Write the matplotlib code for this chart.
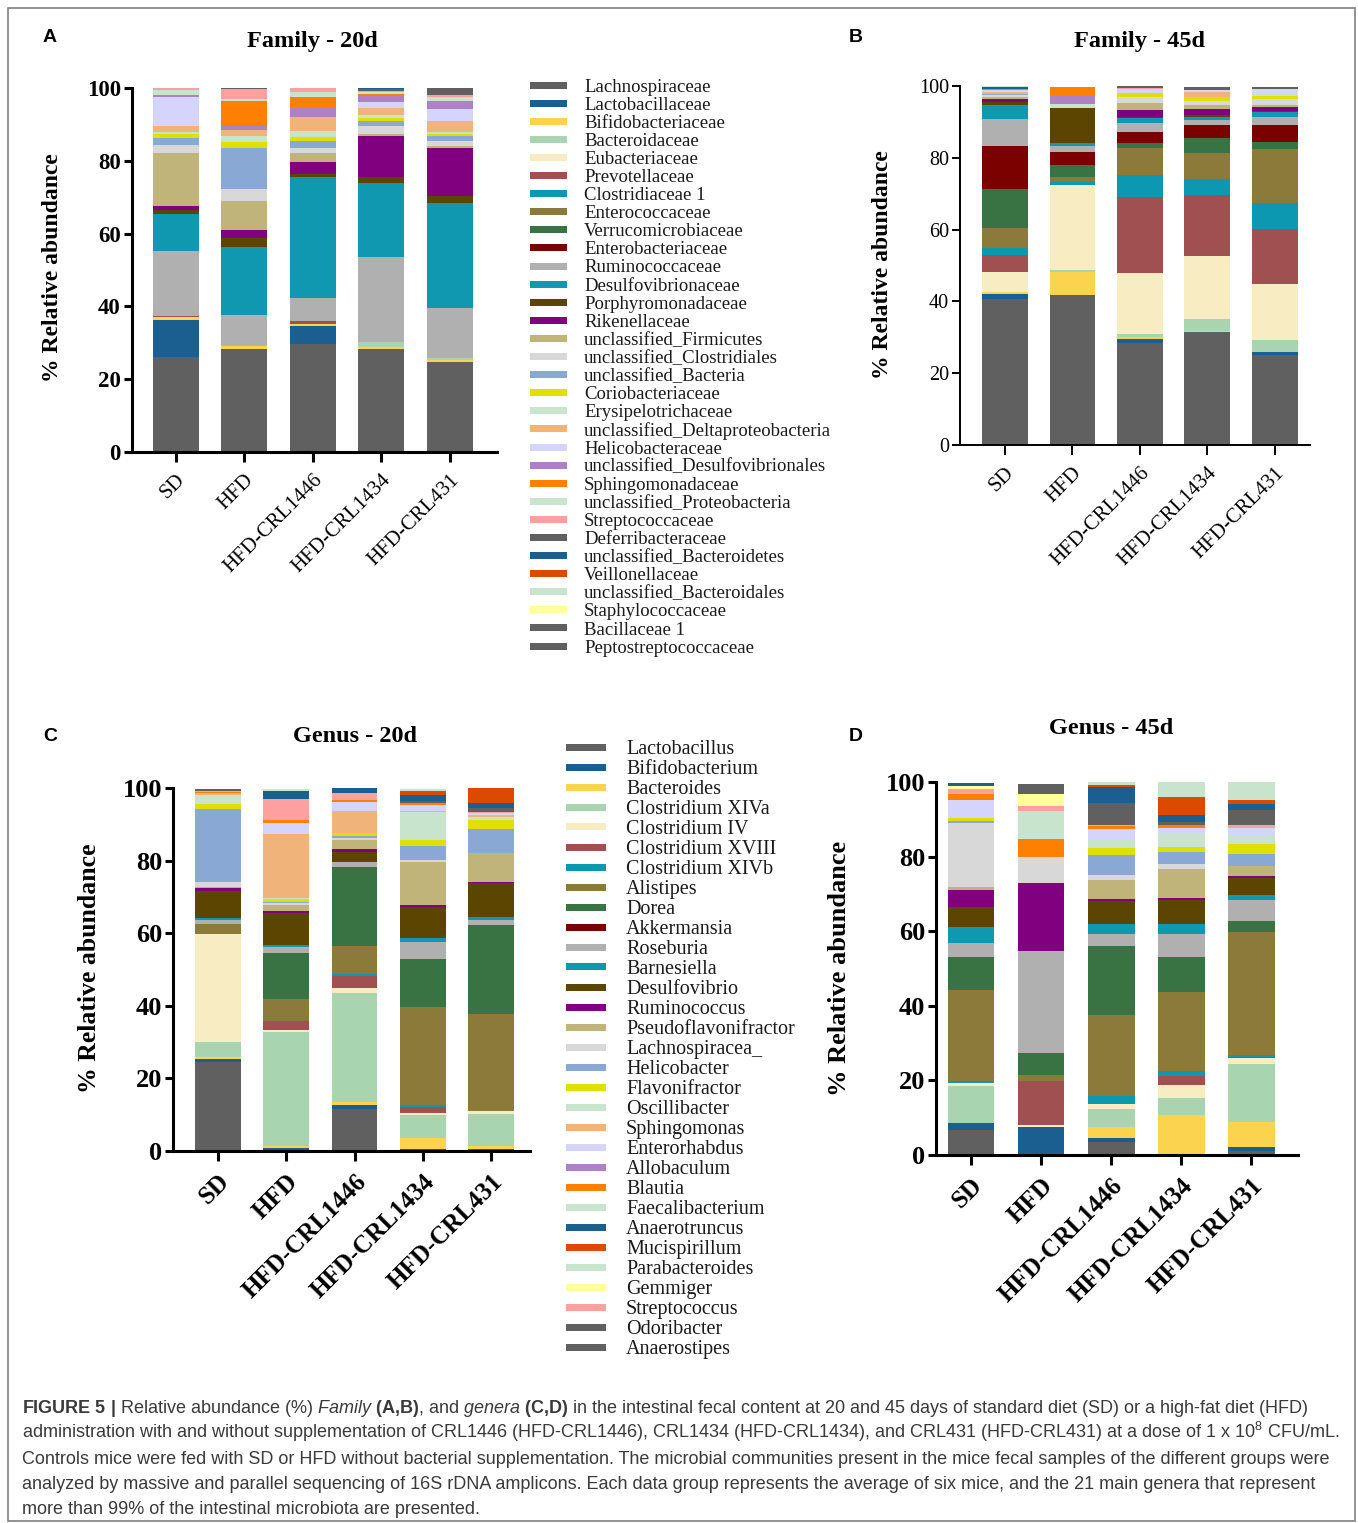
import matplotlib
matplotlib.use("Agg")
import matplotlib.pyplot as plt
from matplotlib.patches import Rectangle
import numpy as np

plt.rcParams["font.family"] = ["Liberation Serif", "DejaVu Serif"]
plt.rcParams["mathtext.fontset"] = "custom"
plt.rcParams["mathtext.rm"] = "Liberation Sans"
plt.rcParams["mathtext.it"] = "Liberation Sans:italic"
plt.rcParams["mathtext.bf"] = "Liberation Sans:bold"

W, H = 1358, 1523

GROUPS = ["SD", "HFD", "HFD-CRL1446", "HFD-CRL1434", "HFD-CRL431"]

# ---- families (legend order == stacking order) ----------------------------
FAMILIES = [
    "Lachnospiraceae", "Lactobacillaceae", "Bifidobacteriaceae", "Bacteroidaceae",
    "Eubacteriaceae", "Prevotellaceae", "Clostridiaceae 1", "Enterococcaceae",
    "Verrucomicrobiaceae", "Enterobacteriaceae", "Ruminococcaceae",
    "Desulfovibrionaceae", "Porphyromonadaceae", "Rikenellaceae",
    "unclassified_Firmicutes", "unclassified_Clostridiales", "unclassified_Bacteria",
    "Coriobacteriaceae", "Erysipelotrichaceae", "unclassified_Deltaproteobacteria",
    "Helicobacteraceae", "unclassified_Desulfovibrionales", "Sphingomonadaceae",
    "unclassified_Proteobacteria", "Streptococcaceae", "Deferribacteraceae",
    "unclassified_Bacteroidetes", "Veillonellaceae", "unclassified_Bacteroidales",
    "Staphylococcaceae", "Bacillaceae 1", "Peptostreptococcaceae",
]
FAMILY_COLORS = [
    "#606060", "#1b5f91", "#fcd34f", "#a8d5b0", "#f8ecc2", "#a05050", "#0d98b2",
    "#8b7a39", "#3a7343", "#7b0000", "#b0b0b0", "#0f98b0", "#5c4500", "#800080",
    "#c0b47b", "#d8d8d8", "#8aa8d4", "#e0e000", "#c8e4cc", "#f0b47a", "#d4d4fc",
    "#b080c4", "#ff8000", "#c8e4cc", "#ffa0a0", "#606060", "#1b5f91", "#dc4a00",
    "#c8e4cc", "#ffff9c", "#606060", "#606060",
]

# Family - 20d, one list per group, values in FAMILIES order (%)
FAM20_SD = [26.2, 10.2, 0.6, 0, 0, 0.5, 0, 0, 0, 0, 17.6, 10.3, 1.1, 1.1, 14.5, 2.3,
            2.0, 0.9, 0.6, 1.7, 7.8, 0.8, 0, 1.2, 0.6, 0, 0, 0, 0, 0, 0, 0]
FAM20_HFD = [28.4, 0, 0.6, 0, 0, 0, 0, 0, 0, 0, 8.6, 18.6, 2.5, 2.3, 7.9, 3.4,
             11.2, 1.7, 1.5, 1.7, 0, 1.4, 6.7, 0.6, 2.5, 0.4, 0, 0, 0, 0, 0, 0]
FAM20_1446 = [29.7, 5.0, 0.6, 0, 0, 0.6, 0, 0, 0, 0, 6.3, 33.3, 0.9, 3.2, 2.5, 1.5,
              1.8, 1.2, 1.5, 4.0, 0, 2.7, 2.6, 1.5, 1.1, 0, 0, 0, 0, 0, 0, 0]
FAM20_1434 = [28.4, 0, 0.4, 1.3, 0, 0, 0, 0, 0, 0, 23.5, 20.4, 1.5, 11.3, 0.7, 2.1,
              1.2, 0.9, 0.9, 1.9, 1.7, 1.8, 0.3, 0.6, 0.3, 0.5, 0.3, 0, 0, 0, 0, 0]
FAM20_431 = [24.6, 0, 0.6, 0.6, 0, 0, 0, 0, 0, 0, 13.8, 28.9, 1.7, 13.3, 0.5, 1.5,
             1.3, 0.7, 0.4, 2.9, 3.3, 2.3, 0, 1.2, 0.4, 2.0, 0, 0, 0, 0, 0, 0]

# Family - 45d
FAM45_SD = [40.7, 1.5, 0.4, 0, 5.5, 4.8, 2.1, 5.4, 10.8, 12.1, 7.6, 3.7, 1.0, 0.7, 0.7,
            0.5, 0.4, 0, 0, 0.5, 0.4, 0, 0.3, 0, 0, 0, 0.5, 0, 0.3, 0, 0, 0]
FAM45_HFD = [41.8, 0, 6.5, 0.4, 23.7, 0, 0.8, 1.4, 3.4, 3.5, 1.9, 0.6, 9.8, 0, 0, 0,
             0, 0, 1.1, 0, 0, 2.4, 2.3, 0, 0, 0, 0, 0, 0.2, 0, 0, 0]
FAM45_1446 = [28.3, 1.3, 0.4, 0.8, 17.0, 21.2, 6.3, 7.5, 1.2, 3.3, 2.3, 1.6, 0.3, 1.8,
              2.1, 1.5, 0, 1.1, 0, 0, 1.2, 0, 0, 0, 0.3, 0.4, 0, 0, 0, 0, 0, 0]
FAM45_1434 = [31.4, 0, 0.4, 3.3, 17.5, 17.0, 4.5, 7.1, 4.2, 3.6, 1.5, 0.8, 0.6, 1.7,
              1.1, 1.2, 0, 0.9, 0, 1.6, 0.6, 0, 0, 0, 0, 0.6, 0, 0, 0, 0, 0, 0]
FAM45_431 = [25.1, 0.9, 0, 3.2, 15.6, 15.5, 7.2, 15.0, 2.0, 4.5, 2.3, 1.4, 0.3, 1.1,
             0.7, 1.6, 0, 0.7, 0.6, 0, 1.4, 0, 0, 0, 0, 0.6, 0, 0, 0, 0, 0, 0]

# ---- genera ----------------------------------------------------------------
GENERA = [
    "Lactobacillus", "Bifidobacterium", "Bacteroides", "Clostridium XIVa",
    "Clostridium IV", "Clostridium XVIII", "Clostridium XIVb", "Alistipes", "Dorea",
    "Akkermansia", "Roseburia", "Barnesiella", "Desulfovibrio", "Ruminococcus",
    "Pseudoflavonifractor", "Lachnospiracea_", "Helicobacter", "Flavonifractor",
    "Oscillibacter", "Sphingomonas", "Enterorhabdus", "Allobaculum", "Blautia",
    "Faecalibacterium", "Anaerotruncus", "Mucispirillum", "Parabacteroides",
    "Gemmiger", "Streptococcus", "Odoribacter", "Anaerostipes",
]
GENUS_COLORS = [
    "#606060", "#1b5f91", "#fcd34f", "#a8d5b0", "#f8ecc2", "#a05050", "#0d98b2",
    "#8b7a39", "#3a7343", "#7b0000", "#b0b0b0", "#0f98b0", "#5c4500", "#800080",
    "#c0b47b", "#d8d8d8", "#8aa8d4", "#e0e000", "#c8e4cc", "#f0b47a", "#d4d4fc",
    "#b080c4", "#ff8000", "#c8e4cc", "#1b5f91", "#dc4a00", "#c8e4cc", "#ffff9c",
    "#ffa0a0", "#606060", "#606060",
]
# the genus bars are not stacked in legend order at the top
GENUS_STACK = list(range(23)) + [23, 28, 27, 29, 30, 24, 25, 26]

# Genus - 20d, values in GENERA order (%)
GEN20_SD = [24.5, 0.9, 0.4, 4.3, 29.6, 0, 0, 2.7, 0, 0, 1.2, 0.7, 7.4, 0.7, 0.4, 1.4,
            20.0, 1.4, 2.5, 0.6, 0, 0, 0.3, 0, 0, 0, 0, 0, 0.3, 0.4, 0]
GEN20_HFD = [0, 0.9, 0.5, 31.4, 0.6, 2.5, 0, 5.9, 12.7, 0, 1.6, 0.7, 8.8, 0.4, 1.7,
             0.6, 0.3, 0.9, 0.3, 17.6, 2.9, 0, 0.8, 0, 2.3, 0, 0.6, 0, 5.8, 0, 0]
GEN20_1446 = [11.6, 1.2, 0.6, 30.1, 1.4, 3.4, 0.5, 7.8, 21.6, 0, 1.4, 0, 2.9, 0.6, 2.5,
              0.7, 0.6, 0.7, 0, 6.2, 2.3, 0, 0.5, 0, 1.3, 0, 0, 0, 2.0, 0, 0]
GEN20_1434 = [0.3, 0.3, 3.0, 6.4, 0.6, 1.4, 0.6, 27.0, 13.3, 0, 4.6, 1.2, 8.6, 0.6,
              11.8, 0.5, 3.7, 1.8, 7.6, 0.5, 1.4, 0, 0.6, 0, 1.8, 1.1, 0.6, 0, 0, 0.5, 0]
GEN20_431 = [0.3, 0.3, 0.8, 8.8, 0.9, 0, 0, 26.6, 24.6, 0, 1.3, 0.9, 9.2, 0.5, 7.9, 0,
             6.7, 2.5, 0.7, 0.5, 0.5, 0, 0, 0, 1.6, 4.1, 0, 0, 0.5, 0.9, 0]

# Genus - 45d
GEN45_SD = [6.6, 2.1, 0, 9.7, 0.9, 0, 0.6, 24.3, 9.0, 0, 3.6, 4.2, 5.4, 4.7, 0.7, 17.1,
            0.7, 0.8, 0, 0, 4.9, 0, 1.4, 0, 0.8, 0, 0, 0.9, 1.4, 0, 0]
GEN45_HFD = [0, 7.6, 0, 0, 0.4, 11.9, 0, 1.6, 5.9, 0, 27.2, 0, 0, 18.4, 0, 6.9, 0, 0,
             0, 0, 0, 0, 4.9, 7.4, 0, 0, 0, 3.3, 1.3, 2.7, 0]
GEN45_1446 = [3.4, 1.1, 2.9, 4.9, 1.4, 0, 2.0, 21.7, 18.7, 0, 3.1, 2.7, 6.1, 0.7, 5.1,
              1.2, 5.3, 2.0, 2.1, 0, 2.9, 0, 0.9, 0, 4.3, 0.6, 0.8, 0, 0.4, 5.7, 0]
GEN45_1434 = [0, 0.4, 10.2, 4.7, 3.6, 2.4, 1.1, 21.4, 9.3, 0, 6.1, 2.6, 6.6, 0.5, 7.9,
              1.3, 3.0, 1.5, 3.8, 0, 1.3, 0, 0.7, 0, 1.8, 4.8, 4.1, 0, 0, 0.9, 0]
GEN45_431 = [1.2, 1.0, 6.6, 15.6, 1.5, 0.4, 0.6, 33.0, 2.9, 0, 5.6, 1.4, 4.5, 0.5, 2.8,
             0, 3.0, 2.7, 2.4, 0, 2.1, 0, 0, 0, 1.4, 1.2, 4.8, 0, 0.8, 4.0, 0]

CAPTION = [
    r"$\mathbf{FIGURE\ 5\ |}$ Relative abundance (%) $\mathit{Family}$ $\mathbf{(A{,}B)}$, "
    r"and $\mathit{genera}$ $\mathbf{(C{,}D)}$ in the intestinal fecal content at 20 and 45 "
    r"days of standard diet (SD) or a high-fat diet (HFD)",
    r"administration with and without supplementation of CRL1446 (HFD-CRL1446), CRL1434 "
    r"(HFD-CRL1434), and CRL431 (HFD-CRL431) at a dose of 1 x 10$^{8}$ CFU/mL.",
    "Controls mice were fed with SD or HFD without bacterial supplementation. The microbial "
    "communities present in the mice fecal samples of the different groups were",
    "analyzed by massive and parallel sequencing of 16S rDNA amplicons. Each data group "
    "represents the average of six mice, and the 21 main genera that represent",
    "more than 99% of the intestinal microbiota are presented.",
]


def box(left, right, top, bottom):
    """pixel box -> figure fraction rect"""
    return [left / W, 1 - bottom / H, (right - left) / W, (bottom - top) / H]


def ftext(x, y, s, **kw):
    fig.text(x / W, 1 - y / H, s, **kw)


def stacked_panel(ax, rows, colors, order, xlim, width, st):
    data = np.array(rows, dtype=float)
    x = np.arange(len(GROUPS))
    bottom = np.zeros(len(GROUPS))
    for j in order:
        ax.bar(x, data[:, j], width, bottom=bottom, color=colors[j], linewidth=0)
        bottom += data[:, j]
    ax.set_xlim(*xlim)
    ax.set_ylim(0, 100)
    ax.set_yticks([0, 20, 40, 60, 80, 100])
    ax.set_xticks(x)
    ax.set_xticklabels(GROUPS, rotation=45, ha="right", rotation_mode="anchor",
                       fontsize=st["xsize"], fontweight=st["xweight"])
    for lab in ax.get_yticklabels():
        lab.set_fontsize(st["ysize"])
        lab.set_fontweight(st["yweight"])
    for side in ("top", "right"):
        ax.spines[side].set_visible(False)
    for side in ("left", "bottom"):
        ax.spines[side].set_linewidth(st["lw"])
    ax.tick_params(axis="y", direction="out", length=6, width=st["lw"], pad=2)
    ax.tick_params(axis="x", direction="out", length=7.5, width=st["lw"], pad=st["xpad"])


def legend_block(names, colors, x_handle, x_text, y0, step, hw, hh, size):
    for i, (name, c) in enumerate(zip(names, colors)):
        y = y0 + i * step
        fig.add_artist(Rectangle((x_handle / W, 1 - (y + hh / 2) / H), hw / W, hh / H,
                                 transform=fig.transFigure, facecolor=c,
                                 edgecolor="none"))
        ftext(x_text, y, name, fontsize=size, va="center_baseline", ha="left",
              color="#1a1a1a")


fig = plt.figure(figsize=(W / 100, H / 100), dpi=100)

style_ab = dict(xsize=15, xweight="normal", ysize=16.5, yweight="bold", lw=2.2, xpad=6)
style_b = dict(xsize=15, xweight="normal", ysize=14.5, yweight="normal", lw=1.4, xpad=6)
style_cd = dict(xsize=18, xweight="bold", ysize=19, yweight="bold", lw=2.2, xpad=6)

ax_a = fig.add_axes(box(132, 497, 88, 452))
stacked_panel(ax_a, [FAM20_SD, FAM20_HFD, FAM20_1446, FAM20_1434, FAM20_431],
              FAMILY_COLORS, range(len(FAMILIES)), (-0.64, 4.69), 0.67, style_ab)

ax_b = fig.add_axes(box(960, 1310, 86, 445))
stacked_panel(ax_b, [FAM45_SD, FAM45_HFD, FAM45_1446, FAM45_1434, FAM45_431],
              FAMILY_COLORS, range(len(FAMILIES)), (-0.667, 4.52), 0.68, style_b)

ax_c = fig.add_axes(box(173, 530, 788, 1151))
stacked_panel(ax_c, [GEN20_SD, GEN20_HFD, GEN20_1446, GEN20_1434, GEN20_431],
              GENUS_COLORS, GENUS_STACK, (-0.66, 4.57), 0.67, style_cd)

ax_d = fig.add_axes(box(936, 1298, 782, 1155))
stacked_panel(ax_d, [GEN45_SD, GEN45_HFD, GEN45_1446, GEN45_1434, GEN45_431],
              GENUS_COLORS, GENUS_STACK, (-0.5, 4.67), 0.67, style_cd)

# titles, panel letters, y labels
ftext(312, 41, "Family - 20d", fontsize=17.5, fontweight="bold", ha="center", va="center")
ftext(1140, 41, "Family - 45d", fontsize=17.5, fontweight="bold", ha="center", va="center")
ftext(355, 736, "Genus - 20d", fontsize=17.5, fontweight="bold", ha="center", va="center")
ftext(1111, 729, "Genus - 45d", fontsize=17.5, fontweight="bold", ha="center", va="center")
for letter, (lx, ly) in zip("ABCD", [(50, 37), (856, 37), (50, 737), (856, 737)]):
    ftext(lx, ly, letter, fontsize=14, fontweight="bold", family="Liberation Sans",
          ha="center", va="center")

ftext(52, 268, "% Relative abundance", fontsize=17, fontweight="bold", rotation=90,
      ha="center", va="center")
ftext(882, 265, "% Relative abundance", fontsize=17, fontweight="bold", rotation=90,
      ha="center", va="center")
ftext(90, 968, "% Relative abundance", fontsize=18.5, fontweight="bold", rotation=90,
      ha="center", va="center")
ftext(840, 968, "% Relative abundance", fontsize=19, fontweight="bold", rotation=90,
      ha="center", va="center")

legend_block(FAMILIES, FAMILY_COLORS, 530, 584, 85, 18.1, 37, 7, 13.5)
legend_block(GENERA, GENUS_COLORS, 566, 626, 747, 20.0, 40, 7, 14.5)

# caption
for i, line in enumerate(CAPTION):
    ftext(22, 1413 + i * 25.3, line, fontsize=13.0, family="Liberation Sans",
          color="#3a3a3a", ha="left", va="baseline")

# outer frame
fig.add_artist(Rectangle((8 / W, 1 - 1521 / H), 1347 / W, 1513 / H, fill=False,
                         edgecolor="#808080", linewidth=1.2, transform=fig.transFigure))

fig.savefig("out.png", dpi=100)
